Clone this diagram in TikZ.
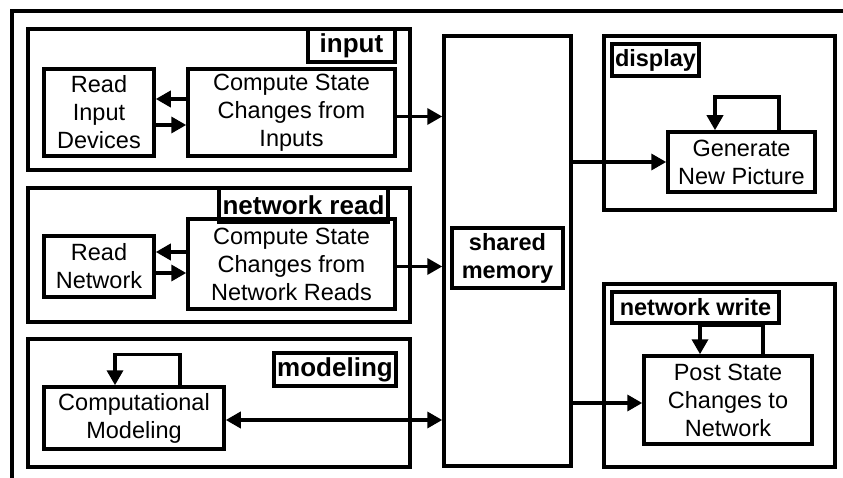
\documentclass[tikz,border=0pt]{standalone}
\usepackage{fontspec}
\setmainfont{Liberation Sans}
\usetikzlibrary{arrows.meta}
\begin{document}
\begin{tikzpicture}[x=1pt,y=-1pt,
  lw/.style={line width=3.5pt},
  box/.style={draw,lw,rectangle,inner sep=0pt,align=center,
    font=\fontsize{23.5}{28}\selectfont},
  tag/.style={draw,lw,rectangle,inner sep=0pt,align=center,
    font=\fontsize{23.5}{28}\selectfont\bfseries},
  bigtag/.style={tag,font=\fontsize{26}{30}\selectfont\bfseries},
  group/.style={draw,lw,rectangle,inner sep=0pt},
  arr/.style={lw,-{Triangle[length=15pt,width=16pt]}},
  darr/.style={lw,{Triangle[length=15pt,width=16pt]}-{Triangle[length=15pt,width=16pt]}}]
\useasboundingbox (0,0) rectangle (843,478);

% outer frame, running off the page at right and bottom
\begin{scope}
  \clip (0,0) rectangle (843,478);
  \draw[lw] (12,500) -- (12,11) -- (870,11);
\end{scope}

% ---- input process ----
\node[group,minimum width=382pt,minimum height=141pt] (gin) at (219,99.5) {};
\node[bigtag,minimum width=87pt,minimum height=33pt] (tin) at (351.5,45.5) {input};
\node[box,minimum width=110pt,minimum height=87pt] (rid) at (99,112.5) {Read\\Input\\Devices};
\node[box,minimum width=207pt,minimum height=87pt] (ci) at (291.5,112.5) {Compute State\\Changes from\\Inputs};
\draw[arr] ([yshift=13.5pt]ci.west) -- ([yshift=13.5pt]rid.east);
\draw[arr] ([yshift=-12.5pt]rid.east) -- ([yshift=-12.5pt]ci.west);

% ---- network read process ----
\node[group,minimum width=382pt,minimum height=134pt] (gnr) at (219,255) {};
\node[box,minimum width=207pt,minimum height=90pt] (cn) at (291.5,264) {Compute State\\Changes from\\Network Reads};
\node[bigtag,minimum width=169pt,minimum height=34pt] (tnr) at (303.5,205) {network read};
\node[box,minimum width=110pt,minimum height=61pt] (rn) at (99,266.5) {Read\\Network};
\draw[arr] ([yshift=14.5pt]rn.east -| cn.west) -- ([yshift=14.5pt]rn.east);
\draw[arr] ([yshift=-6.5pt]rn.east) -- ([yshift=-6.5pt]rn.east -| cn.west);

% ---- modeling process ----
\node[group,minimum width=382pt,minimum height=128pt] (gmo) at (219,403) {};
\node[bigtag,minimum width=122pt,minimum height=33pt] (tmo) at (335,369.5) {modeling};
\node[box,minimum width=180pt,minimum height=62pt] (cm) at (134,418) {Computational\\Modeling};
\draw[arr] ([xshift=46pt]cm.north) -- ++(0pt,31pt) -| ([xshift=-19pt]cm.north);

% ---- shared memory ----
\node[group,minimum width=127pt,minimum height=430pt] (sm) at (507.5,251) {};
\node[tag,minimum width=111pt,minimum height=60pt] (tsm) at (507.5,258) {shared\\memory};
\draw[arr] ([yshift=-4pt]ci.east) -- ([yshift=-4pt]ci.east -| sm.west);
\draw[arr] ([yshift=-2.5pt]cn.east) -- ([yshift=-2.5pt]cn.east -| sm.west);
\draw[darr] ([yshift=-2pt]cm.east) -- ([yshift=-2pt]cm.east -| sm.west);

% ---- display process ----
\node[group,minimum width=231pt,minimum height=174pt] (gdi) at (719.5,123) {};
\node[tag,minimum width=87pt,minimum height=32pt] (tdi) at (655.5,60) {display};
\node[box,minimum width=147pt,minimum height=60pt] (gen) at (741.5,162) {Generate\\New Picture};
\draw[arr] ([xshift=37.5pt]gen.north) -- ++(0pt,33pt) -| ([xshift=-26.5pt]gen.north);
\draw[arr] (gen.west -| sm.east) -- (gen.west);

% ---- network write process ----
\node[group,minimum width=231pt,minimum height=183pt] (gnw) at (719.5,375.5) {};
\node[tag,minimum width=167pt,minimum height=31pt] (tnw) at (695.5,307.5) {network write};
\node[box,minimum width=168pt,minimum height=88pt] (post) at (728,400) {Post State\\Changes to\\Network};
\draw[arr] ([xshift=35pt]post.north) -- ([xshift=35pt]post.north |- tnw.south)
  -- ([xshift=-28pt]post.north |- tnw.south) -- ([xshift=-28pt]post.north);
\draw[arr] ([yshift=-3pt]post.west -| sm.east) -- ([yshift=-3pt]post.west);
\end{tikzpicture}
\end{document}
